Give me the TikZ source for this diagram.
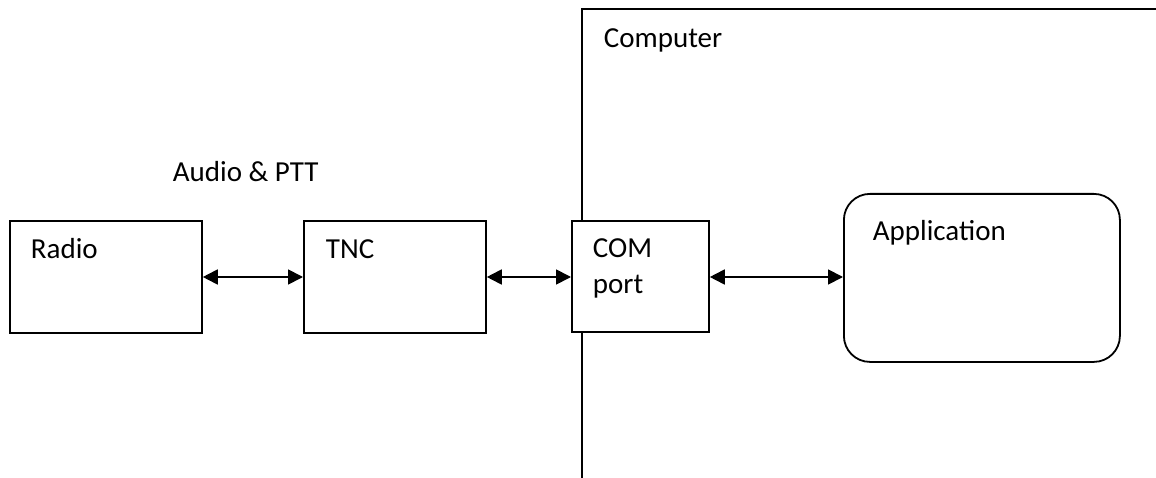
\documentclass[tikz,border=0pt]{standalone}
\usepackage{fontspec}
\setmainfont{Carlito}
\usetikzlibrary{arrows.meta}
\begin{document}
\begin{tikzpicture}[x=1pt,y=-1pt,
  line width=1.8pt,
  box/.style={draw,fill=white,rectangle,inner sep=0pt,anchor=north west},
  lbl/.style={anchor=base west,inner sep=0pt,font=\fontsize{29}{35}\selectfont},
  link/.style={{Triangle[length=15pt,width=15pt]}-{Triangle[length=15pt,width=15pt]}}]
\useasboundingbox (0,0) rectangle (1156,478);
% computer frame
\coordinate (cb) at (582,478);
\coordinate (ct) at (582,9);
\coordinate (cr) at (1156,9);
\draw (cb) -- (ct) -- (cr);
\node[lbl] (comp) at (603,48) {Computer};
% boxes
\node[box,minimum width=192pt,minimum height=112pt] (radio) at (9,220) {};
\node[box,minimum width=182pt,minimum height=112pt] (tnc) at (303,220) {};
\node[box,minimum width=137pt,minimum height=111pt] (com) at (571,220) {};
\node[box,rounded corners=26pt,minimum width=276pt,minimum height=168pt] (app) at (843,193) {};
% labels
\node[lbl] (radiot) at (30,259) {Radio};
\node[lbl] (tnct) at (325,259) {TNC};
\node[lbl] (comt) at (592,258) {COM};
\node[lbl] (portt) at (592,294) {port};
\node[lbl] (appt) at (872,241) {Application};
\node[lbl] (audio) at (172,182) {Audio \& PTT};
% connectors
\draw[link] (radio.east |- 0,277) -- (tnc.west |- 0,277);
\draw[link] (tnc.east |- 0,277) -- (com.west |- 0,277);
\draw[link] (com.east |- 0,277) -- (app.west |- 0,277);
\end{tikzpicture}
\end{document}
